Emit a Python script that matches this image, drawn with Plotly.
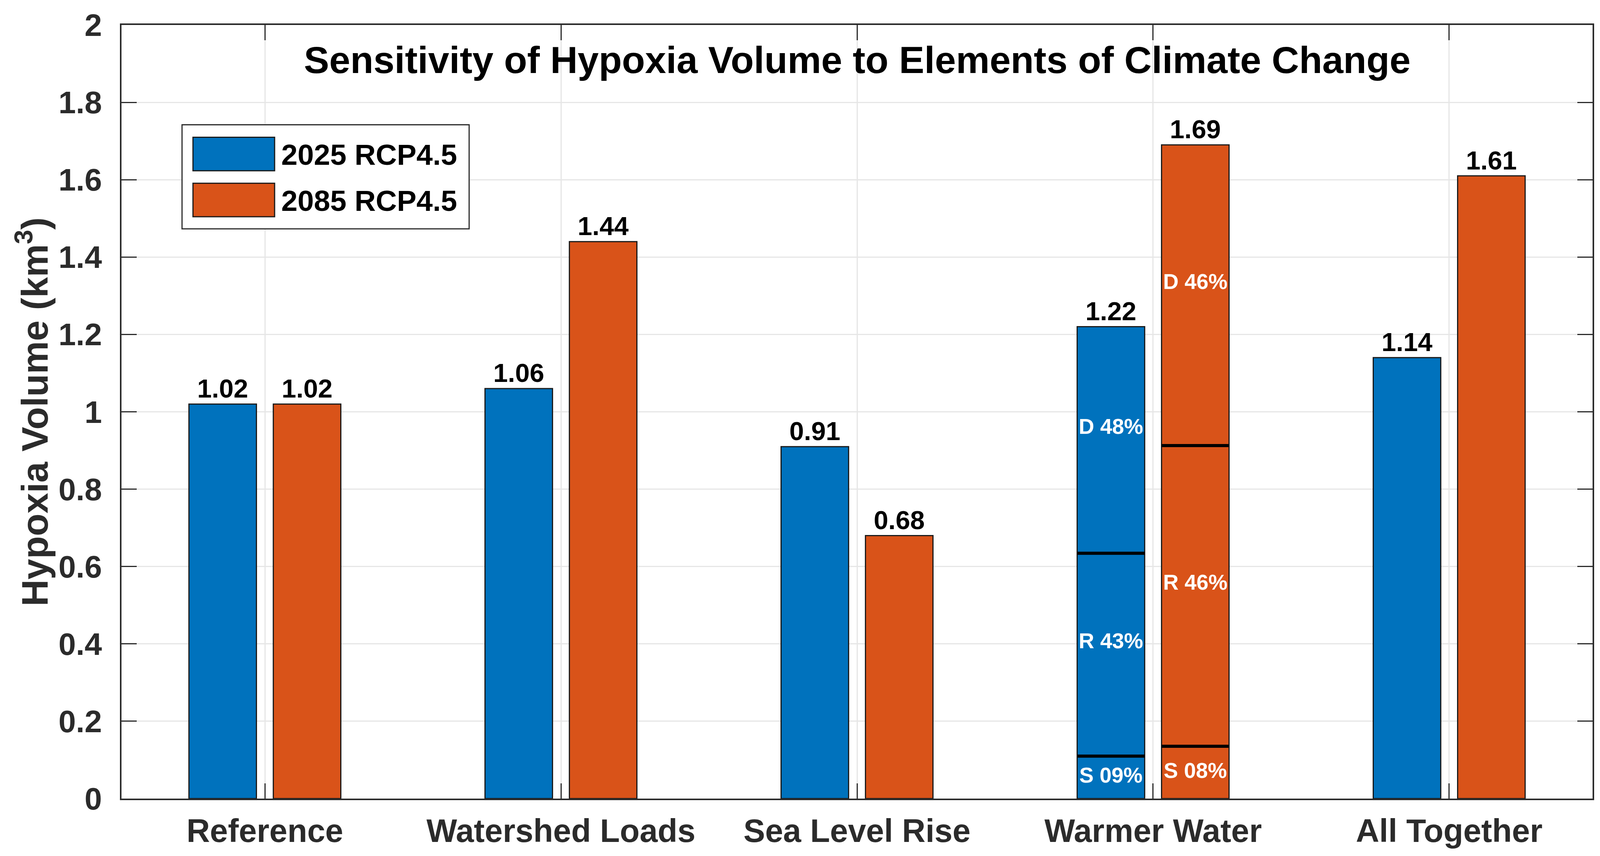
import numpy as np
import plotly.graph_objects as go

# ---------------- data ----------------
categories = ["Reference", "Watershed Loads", "Sea Level Rise", "Warmer Water", "All Together"]
series_names = ["2025 RCP4.5", "2085 RCP4.5"]
values_2025 = [1.02, 1.06, 0.91, 1.22, 1.14]
values_2085 = [1.02, 1.44, 0.68, 1.69, 1.61]
# decomposition of the "Warmer Water" bars (fractions of bar total)
component_codes = ["S", "R", "D"]
warm_frac_2025 = [0.09, 0.43, 0.48]
warm_frac_2085 = [0.08, 0.46, 0.46]
warm_category = "Warmer Water"
y_tick_values = [0, 0.2, 0.4, 0.6, 0.8, 1.0, 1.2, 1.4, 1.6, 1.8, 2.0]
y_tick_labels = ["0", "0.2", "0.4", "0.6", "0.8", "1", "1.2", "1.4", "1.6", "1.8", "2"]

# ---------------- style ----------------
BLUE = "#0072BD"
ORANGE = "#D95319"
AXC = "#2b2b2b"
GRID = "#e6e6e6"
FONT = "Liberation Sans"
BAR_W = 0.228
HALF_SEP = 0.1425
XPAD = 0.4843

# page body has an 8px default margin: compensate so the chart lands on the page grid
PAGE_OFF = 8
W, H = 4108 - PAGE_OFF, 2192 - PAGE_OFF
ML, MR, MT, MB = 311 - PAGE_OFF, 31, 60 - PAGE_OFF, 147

xpos = np.arange(1, len(categories) + 1)
series = [(series_names[0], values_2025, BLUE, -HALF_SEP, warm_frac_2025),
          (series_names[1], values_2085, ORANGE, HALF_SEP, warm_frac_2085)]

fig = go.Figure()

for name, vals, col, off, _ in series:
    fig.add_trace(go.Bar(
        x=xpos, y=vals, name=name,
        offset=off - BAR_W / 2, width=BAR_W,
        marker=dict(color=col, line=dict(color="#1a1a1a", width=3)),
        showlegend=False, hoverinfo="x+y",
    ))

# value labels above bars
for name, vals, col, off, _ in series:
    fig.add_trace(go.Scatter(
        x=xpos + off, y=vals, mode="text",
        text=[f"{v:.2f}" for v in vals], textposition="top center",
        textfont=dict(family=FONT, size=67, color="black", weight="bold"),
        showlegend=False, hoverinfo="skip", cliponaxis=False,
    ))

# segment separators and labels for warmer water
wi = categories.index(warm_category)
for name, vals, col, off, fr in series:
    total = vals[wi]
    cum = np.cumsum([0] + fr) * total
    cx = xpos[wi] + off
    lx, ly = [], []
    for b in cum[1:-1]:
        lx += [cx - BAR_W / 2, cx + BAR_W / 2, None]
        ly += [b, b, None]
    fig.add_trace(go.Scatter(x=lx, y=ly, mode="lines",
                             line=dict(color="black", width=8),
                             showlegend=False, hoverinfo="skip"))
    mids = [(cum[k] + cum[k + 1]) / 2 + (0.03 if k > 0 else 0) for k in range(len(fr))]
    txt = [f"{c} {round(f * 100):02d}%" for c, f in zip(component_codes, fr)]
    fig.add_trace(go.Scatter(
        x=[cx] * len(fr), y=mids, mode="text", text=txt, textposition="middle center",
        textfont=dict(family=FONT, size=55, color="white", weight="bold"),
        showlegend=False, hoverinfo="skip",
    ))

# ---------------- manual legend (positions in page pixels) ----------------
pw, ph = W - ML - MR, H - MT - MB
def px(xp):
    return (xp - PAGE_OFF - ML) / pw
def py(yp):
    return (H - MB - (yp - PAGE_OFF)) / ph

shapes = [dict(type="rect", xref="paper", yref="paper",
               x0=px(466), x1=px(1201), y0=py(583), y1=py(316),
               line=dict(color=AXC, width=3), fillcolor="white", layer="above")]
annotations = []
for k, (name, vals, col, off, _) in enumerate(series):
    top = 348 + k * 118
    shapes.append(dict(type="rect", xref="paper", yref="paper",
                       x0=px(494), x1=px(703), y0=py(top + 86), y1=py(top),
                       line=dict(color="#1a1a1a", width=3), fillcolor=col, layer="above"))
    annotations.append(dict(xref="paper", yref="paper", x=px(718), y=py(top + 45),
                            xanchor="left", yanchor="middle", text=name, showarrow=False,
                            font=dict(family=FONT, size=75, color="black", weight="bold")))

annotations.append(dict(xref="paper", yref="paper", x=0.5, y=py(150),
                        xanchor="center", yanchor="middle", showarrow=False,
                        text="Sensitivity of Hypoxia Volume to Elements of Climate Change",
                        font=dict(family=FONT, size=97, color="black", weight="bold")))
annotations.append(dict(xref="paper", yref="paper", x=px(82), y=0.5, textangle=-90,
                        xanchor="center", yanchor="middle", showarrow=False,
                        text="Hypoxia Volume (km<sup>3</sup>)",
                        font=dict(family=FONT, size=95, color=AXC, weight="bold")))

fig.update_layout(
    width=W, height=H,
    margin=dict(l=ML, r=MR, t=MT, b=MB, pad=0),
    paper_bgcolor="white", plot_bgcolor="white",
    barmode="overlay",
    shapes=shapes, annotations=annotations,
    showlegend=False,
)
fig.update_xaxes(
    range=[1 - XPAD, len(categories) + XPAD],
    tickmode="array", tickvals=xpos, ticktext=categories,
    tickfont=dict(family=FONT, size=83, color=AXC, weight="bold"),
    ticks="inside", ticklen=39, tickwidth=3, tickcolor=AXC,
    showline=True, linecolor=AXC, linewidth=4, mirror="ticks",
    showgrid=True, gridcolor=GRID, gridwidth=3, zeroline=False,
    ticklabelstandoff=7,
)
fig.update_yaxes(
    range=[0, 2],
    tickmode="array", tickvals=y_tick_values, ticktext=y_tick_labels,
    tickfont=dict(family=FONT, size=80, color=AXC, weight="bold"),
    ticks="inside", ticklen=39, tickwidth=3, tickcolor=AXC,
    showline=True, linecolor=AXC, linewidth=4, mirror="ticks",
    showgrid=True, gridcolor=GRID, gridwidth=3, zeroline=False,
    ticklabelstandoff=30,
)

fig.write_html("out.html")
